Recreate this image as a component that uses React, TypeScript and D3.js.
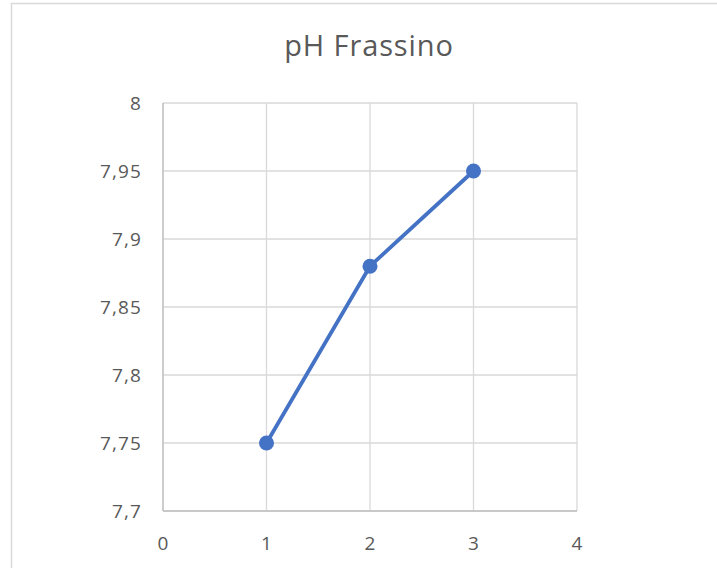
import React from "react";
import * as d3 from "d3";

const xValues = [1, 2, 3];
const yValues = [7.75, 7.88, 7.95];
const xTicks = [0, 1, 2, 3, 4];
const yTicks = [7.7, 7.75, 7.8, 7.85, 7.9, 7.95, 8];
const title = "pH Frassino";

export default function App() {
  const W = 717, H = 568;
  const x = d3.scaleLinear().domain([0, 4]).range([163, 577]);
  const y = d3.scaleLinear().domain([7.7, 8]).range([511, 103]);
  const fmt = (v: number) => String(+v.toFixed(2)).replace(".", ",");
  const line = d3.line<number>().x((_, i) => x(xValues[i])).y((d) => y(d));
  const font = "'Open Sans', sans-serif";
  return (
    <svg width={W} height={H} style={{ position: "absolute", left: 0, top: 0, background: "#fff" }}>
      <rect x={11.5} y={3.5} width={W} height={H} fill="#fff" stroke="#d9d9d9" strokeWidth={1.5} />
      <text x={369} y={56} textAnchor="middle" fontFamily={font} fontSize={29} letterSpacing={0.9} fill="#595959">{title}</text>
      {yTicks.map((t) => (
        <line key={"gy" + t} x1={163} x2={577} y1={y(t)} y2={y(t)} stroke="#d9d9d9" strokeWidth={1.3} />
      ))}
      {xTicks.map((t) => (
        <line key={"gx" + t} x1={x(t)} x2={x(t)} y1={103} y2={511} stroke="#d9d9d9" strokeWidth={1.3} />
      ))}
      <line x1={163} x2={577} y1={511} y2={511} stroke="#bfbfbf" strokeWidth={1.3} />
      <line x1={163} x2={163} y1={103} y2={511} stroke="#bfbfbf" strokeWidth={1.3} />
      {yTicks.map((t) => (
        <text key={"ly" + t} x={142} y={y(t) + 7} textAnchor="end" fontFamily={font} fontSize={19} letterSpacing={1.1} fill="#595959">{fmt(t)}</text>
      ))}
      {xTicks.map((t) => (
        <text key={"lx" + t} x={x(t)} y={550} textAnchor="middle" fontFamily={font} fontSize={19} fill="#595959">{fmt(t)}</text>
      ))}
      <path d={line(yValues) || ""} fill="none" stroke="#4472C4" strokeWidth={3.8} strokeLinejoin="round" />
      {yValues.map((v, i) => (
        <circle key={"p" + i} cx={x(xValues[i])} cy={y(v)} r={7.5} fill="#4472C4" />
      ))}
    </svg>
  );
}
